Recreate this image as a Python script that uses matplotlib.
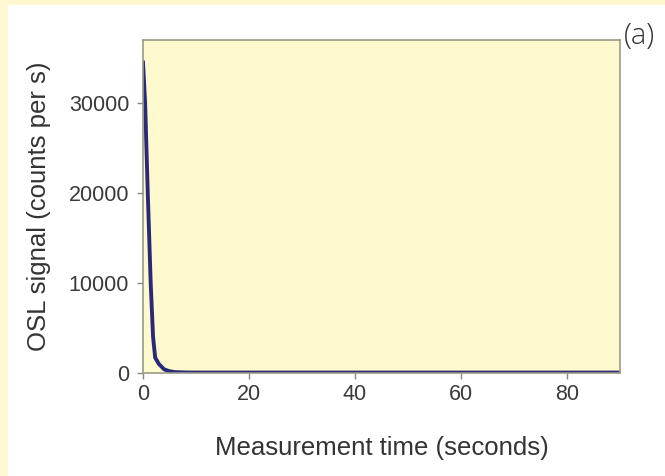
import matplotlib
matplotlib.use("Agg")
import matplotlib.pyplot as plt
from matplotlib.patches import Rectangle

# OSL decay curve
time_s = [0, 0.4, 0.9, 1.45, 1.9, 2.3, 3, 4, 5, 6, 8, 10, 20, 30, 40, 50, 60, 70, 80, 90]
signal = [34500, 30000, 20000, 10000, 4000, 1700, 1000, 400, 200, 100, 60, 50, 50, 50, 50, 50, 50, 50, 50, 50]

x_ticks = [0, 20, 40, 60, 80]
y_ticks = [0, 10000, 20000, 30000]

plt.rcParams['font.family'] = ['Liberation Sans', 'DejaVu Sans']

fig = plt.figure(figsize=(6.65, 4.76), dpi=100)
fig.patch.set_facecolor('white')
# pale yellow strips on the left and top edge
fig.add_artist(Rectangle((0, 0), 8 / 665, 1, transform=fig.transFigure,
                         facecolor='#fff7cf', edgecolor='none'))
fig.add_artist(Rectangle((0, 1 - 5 / 476), 1, 5 / 476, transform=fig.transFigure,
                         facecolor='#fff7cf', edgecolor='none'))

ax = fig.add_axes([143 / 665, 1 - 373 / 476, (620 - 143) / 665, (373 - 40) / 476])
ax.set_facecolor('#fffacd')
ax.plot(time_s, signal, color='#2b2a78', lw=2.8, solid_joinstyle='round')

ax.set_xlim(0, 90)
ax.set_ylim(0, 37000)
ax.set_xticks(x_ticks)
ax.set_yticks(y_ticks)
ax.tick_params(colors='#888888', labelcolor='#3a3a3a', labelsize=15.5,
               length=4, width=1, direction='out')
ax.tick_params(axis='y', pad=6)
ax.tick_params(axis='x', pad=4)
for s in ax.spines.values():
    s.set_color('#9a9a88')
    s.set_linewidth(1.2)

ax.set_xlabel('Measurement time (seconds)', fontsize=18.5, color='#333333', va='center')
ax.set_ylabel('OSL signal (counts per s)', fontsize=18.5, color='#333333', va='center')
ax.xaxis.set_label_coords(0.5, (373 - 448) / 333)
ax.yaxis.set_label_coords((39 - 143) / 477, 0.5)

fig.text(624 / 665, 1 - 36 / 476, '(a)', fontsize=21, color='#333333',
         family=['Open Sans', 'DejaVu Sans'], fontweight='light', va='center')

fig.savefig('out.png', dpi=100)
